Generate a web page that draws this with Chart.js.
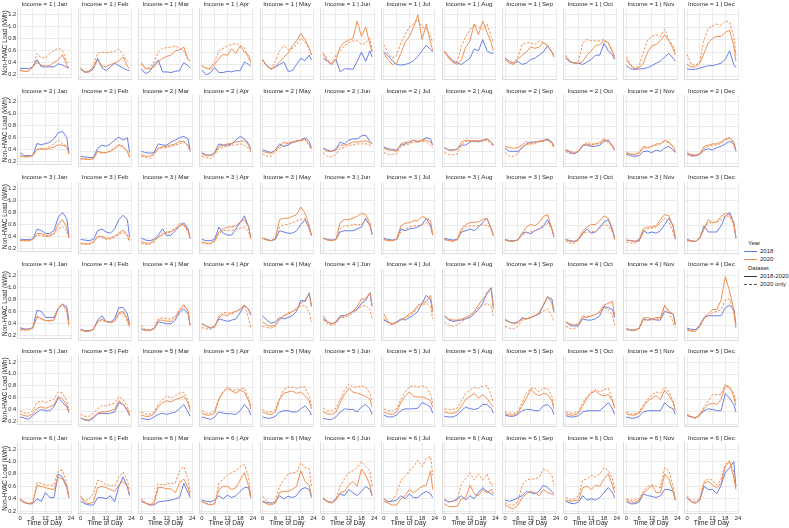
<!DOCTYPE html>
<html><head><meta charset="utf-8">
<script src="https://cdn.jsdelivr.net/npm/chart.js@4"></script>
<style>
html,body{margin:0;padding:0;background:#fff;width:789px;height:528px;overflow:hidden;position:relative;font-family:"Liberation Sans",Arial,sans-serif}
canvas{position:absolute}
.lg{position:absolute;font-size:6px;color:#262626;white-space:nowrap;line-height:1;transform:translateY(-50%)}
.ln{position:absolute;width:13px;height:0;border-top:1px solid #333}
</style></head><body>
<div class="lg" style="left:748px;top:242.7px">Year</div>
<div class="ln" style="left:744px;top:250.5px;border-top-color:#6078e6"></div>
<div class="lg" style="left:760px;top:250.7px">2018</div>
<div class="ln" style="left:744px;top:259px;border-top-color:#f08a4b"></div>
<div class="lg" style="left:760px;top:259.3px">2020</div>
<div class="lg" style="left:748px;top:267.7px">Dataset</div>
<div class="ln" style="left:744px;top:275.8px"></div>
<div class="lg" style="left:760px;top:276px">2018-2020</div>
<div class="ln" style="left:744px;top:284.1px;border-top-style:dashed;border-top-color:#555"></div>
<div class="lg" style="left:760px;top:284.3px">2020 only</div>
<script>
const MONTHS=['Jan','Feb','Mar','Apr','May','Jun','Jul','Aug','Sep','Oct','Nov','Dec'];
const INCOMES=[1,2,3,4,5,6];
const HOURS=[0,2,4,6,8,10,12,14,16,18,20,22,23];
const X_TICKS=[0,6,12,18,24];
const Y_TICKS=[0.2,0.4,0.6,0.8,1.0,1.2];

const INC1_2018=[
[0.31,0.30,0.30,0.33,0.45,0.33,0.33,0.33,0.33,0.38,0.36,0.32,0.31],
[0.33,0.28,0.28,0.33,0.50,0.35,0.30,0.36,0.42,0.38,0.34,0.31,0.30],
[0.33,0.25,0.29,0.40,0.47,0.28,0.28,0.27,0.29,0.30,0.43,0.38,0.34],
[0.31,0.23,0.27,0.35,0.27,0.27,0.29,0.28,0.30,0.30,0.44,0.40,0.37],
[0.47,0.38,0.33,0.36,0.40,0.44,0.29,0.30,0.40,0.50,0.46,0.55,0.47],
[0.50,0.45,0.40,0.48,0.28,0.33,0.33,0.32,0.45,0.60,0.45,0.62,0.52],
[0.60,0.54,0.46,0.40,0.39,0.40,0.42,0.46,0.53,0.62,0.71,0.64,0.60],
[0.60,0.53,0.46,0.42,0.40,0.45,0.50,0.65,0.62,0.80,0.62,0.58,0.58],
[0.50,0.45,0.42,0.45,0.40,0.42,0.48,0.50,0.55,0.60,0.70,0.60,0.55],
[0.50,0.44,0.42,0.42,0.40,0.44,0.48,0.55,0.55,0.74,0.62,0.55,0.48],
[0.38,0.33,0.32,0.33,0.33,0.35,0.38,0.42,0.45,0.52,0.58,0.50,0.45],
[0.33,0.32,0.32,0.34,0.36,0.38,0.38,0.40,0.42,0.48,0.62,0.40,0.35]];
const INC1_2020=[
[0.27,0.25,0.26,0.33,0.40,0.36,0.34,0.35,0.40,0.45,0.53,0.36,0.31],
[0.32,0.27,0.30,0.35,0.47,0.38,0.36,0.40,0.42,0.46,0.52,0.37,0.33],
[0.43,0.33,0.33,0.36,0.45,0.50,0.53,0.55,0.62,0.63,0.68,0.48,0.46],
[0.38,0.34,0.32,0.40,0.50,0.56,0.55,0.65,0.58,0.70,0.60,0.55,0.43],
[0.48,0.38,0.32,0.37,0.44,0.52,0.58,0.70,0.78,0.90,0.80,0.66,0.55],
[0.58,0.45,0.40,0.48,0.68,0.76,0.79,0.82,1.10,0.85,1.00,0.72,0.60],
[0.58,0.48,0.40,0.42,0.58,0.75,0.85,1.00,1.20,0.80,1.05,0.75,0.62],
[0.62,0.50,0.43,0.40,0.48,0.68,0.78,1.05,0.88,1.10,0.92,0.75,0.62],
[0.48,0.42,0.40,0.48,0.55,0.60,0.68,0.66,0.68,0.75,0.70,0.60,0.52],
[0.52,0.45,0.42,0.42,0.45,0.55,0.62,0.70,0.72,0.78,0.75,0.60,0.50],
[0.48,0.38,0.33,0.35,0.42,0.60,0.70,0.72,0.78,0.88,0.78,0.65,0.55],
[0.40,0.36,0.36,0.42,0.58,0.75,0.82,0.85,0.85,0.92,0.95,0.70,0.45]];
const INC1_2020ONLY=[
[0.29,0.25,0.26,0.32,0.55,0.48,0.48,0.55,0.60,0.64,0.60,0.42,0.38],
[0.35,0.27,0.28,0.38,0.58,0.60,0.59,0.60,0.61,0.65,0.56,0.45,0.42],
[0.40,0.33,0.35,0.45,0.60,0.66,0.67,0.68,0.70,0.66,0.62,0.48,0.45],
[0.38,0.34,0.34,0.45,0.62,0.66,0.70,0.72,0.74,0.70,0.67,0.48,0.44],
[0.48,0.37,0.33,0.45,0.62,0.70,0.64,0.66,0.72,0.82,0.76,0.64,0.55],
[0.58,0.48,0.42,0.55,0.62,0.70,0.75,0.78,0.78,0.72,0.75,0.82,0.62],
[0.72,0.58,0.50,0.55,0.75,0.88,1.00,1.05,1.12,1.00,0.98,0.85,0.75],
[0.60,0.52,0.44,0.45,0.70,0.85,0.95,1.05,1.00,0.96,1.05,0.85,0.75],
[0.50,0.45,0.42,0.52,0.72,0.75,0.75,0.72,0.78,0.75,0.70,0.60,0.52],
[0.55,0.45,0.42,0.45,0.75,0.80,0.78,0.78,0.78,0.80,0.75,0.62,0.52],
[0.52,0.40,0.34,0.38,0.60,0.80,0.85,0.88,0.85,0.97,0.80,0.70,0.58],
[0.56,0.40,0.38,0.45,0.80,0.98,1.02,1.05,1.03,1.10,1.08,0.85,0.55]];

const INC2_2018=[
[0.35,0.30,0.30,0.30,0.50,0.48,0.50,0.52,0.58,0.68,0.70,0.60,0.35],
[0.32,0.31,0.30,0.30,0.45,0.50,0.48,0.52,0.58,0.63,0.58,0.62,0.38],
[0.40,0.38,0.37,0.38,0.52,0.50,0.50,0.55,0.58,0.62,0.64,0.60,0.42],
[0.38,0.34,0.34,0.38,0.52,0.50,0.50,0.52,0.58,0.64,0.60,0.52,0.43],
[0.43,0.40,0.38,0.42,0.52,0.48,0.50,0.54,0.56,0.58,0.62,0.56,0.45],
[0.45,0.42,0.40,0.44,0.55,0.52,0.58,0.60,0.60,0.65,0.66,0.56,0.52],
[0.47,0.44,0.43,0.42,0.50,0.52,0.55,0.58,0.55,0.58,0.62,0.60,0.50],
[0.46,0.42,0.42,0.44,0.50,0.50,0.55,0.57,0.55,0.58,0.60,0.55,0.50],
[0.45,0.40,0.40,0.40,0.45,0.52,0.55,0.55,0.56,0.57,0.60,0.55,0.48],
[0.42,0.38,0.36,0.40,0.50,0.50,0.48,0.48,0.50,0.56,0.58,0.48,0.42],
[0.35,0.33,0.32,0.33,0.40,0.40,0.38,0.42,0.40,0.45,0.48,0.42,0.38],
[0.36,0.33,0.33,0.35,0.42,0.44,0.42,0.46,0.48,0.52,0.56,0.52,0.40]];
const INC2_2020=[
[0.30,0.28,0.28,0.30,0.40,0.42,0.40,0.42,0.44,0.48,0.47,0.45,0.32],
[0.28,0.28,0.27,0.28,0.40,0.38,0.38,0.40,0.44,0.50,0.48,0.40,0.30],
[0.35,0.32,0.32,0.36,0.45,0.47,0.48,0.50,0.52,0.56,0.56,0.50,0.40],
[0.36,0.33,0.33,0.37,0.48,0.50,0.52,0.53,0.55,0.56,0.57,0.50,0.42],
[0.40,0.38,0.37,0.42,0.48,0.55,0.52,0.55,0.57,0.58,0.60,0.50,0.45],
[0.44,0.40,0.40,0.42,0.50,0.50,0.52,0.55,0.55,0.56,0.57,0.54,0.52],
[0.45,0.42,0.42,0.40,0.52,0.55,0.54,0.58,0.56,0.58,0.58,0.55,0.50],
[0.45,0.42,0.42,0.43,0.55,0.58,0.57,0.57,0.57,0.58,0.60,0.55,0.50],
[0.48,0.46,0.45,0.46,0.50,0.56,0.52,0.55,0.56,0.58,0.58,0.55,0.47],
[0.43,0.40,0.38,0.40,0.50,0.52,0.50,0.52,0.54,0.60,0.56,0.50,0.42],
[0.38,0.36,0.35,0.38,0.48,0.46,0.48,0.52,0.52,0.58,0.55,0.48,0.40],
[0.38,0.35,0.34,0.36,0.48,0.50,0.52,0.52,0.55,0.60,0.62,0.55,0.42]];
const INC2_2020ONLY=[
[0.29,0.28,0.28,0.30,0.40,0.40,0.42,0.45,0.50,0.56,0.50,0.45,0.35],
[0.28,0.27,0.27,0.28,0.40,0.37,0.38,0.41,0.46,0.51,0.45,0.40,0.31],
[0.32,0.30,0.28,0.35,0.44,0.46,0.46,0.48,0.50,0.52,0.55,0.48,0.40],
[0.32,0.30,0.28,0.35,0.45,0.47,0.48,0.50,0.50,0.52,0.50,0.45,0.38],
[0.36,0.32,0.32,0.40,0.45,0.50,0.54,0.55,0.56,0.57,0.58,0.50,0.42],
[0.38,0.32,0.31,0.35,0.45,0.46,0.50,0.50,0.52,0.52,0.52,0.50,0.48],
[0.38,0.35,0.35,0.36,0.48,0.50,0.52,0.55,0.55,0.56,0.55,0.50,0.45],
[0.38,0.35,0.34,0.36,0.50,0.56,0.56,0.55,0.56,0.56,0.58,0.52,0.48],
[0.38,0.32,0.32,0.36,0.48,0.50,0.52,0.52,0.55,0.56,0.58,0.52,0.45],
[0.40,0.36,0.36,0.40,0.48,0.55,0.52,0.52,0.52,0.58,0.54,0.48,0.42],
[0.37,0.35,0.34,0.37,0.45,0.46,0.48,0.50,0.52,0.56,0.54,0.47,0.40],
[0.35,0.32,0.32,0.35,0.45,0.48,0.50,0.50,0.53,0.58,0.62,0.52,0.42]];

const INC3_2018=[
[0.36,0.35,0.35,0.36,0.52,0.50,0.45,0.45,0.50,0.72,0.80,0.70,0.42],
[0.38,0.37,0.36,0.38,0.52,0.55,0.50,0.48,0.55,0.70,0.77,0.70,0.42],
[0.40,0.37,0.36,0.38,0.45,0.55,0.44,0.45,0.52,0.60,0.65,0.55,0.40],
[0.38,0.36,0.36,0.38,0.58,0.48,0.45,0.45,0.55,0.65,0.76,0.58,0.40],
[0.40,0.38,0.36,0.38,0.52,0.50,0.48,0.48,0.52,0.62,0.70,0.55,0.44],
[0.40,0.38,0.37,0.38,0.50,0.52,0.52,0.52,0.55,0.58,0.72,0.60,0.46],
[0.40,0.38,0.37,0.38,0.55,0.52,0.55,0.56,0.58,0.62,0.72,0.60,0.45],
[0.40,0.38,0.37,0.38,0.50,0.52,0.55,0.52,0.58,0.65,0.72,0.55,0.44],
[0.38,0.36,0.36,0.37,0.48,0.50,0.47,0.52,0.55,0.60,0.70,0.55,0.42],
[0.38,0.36,0.35,0.38,0.48,0.55,0.48,0.50,0.58,0.66,0.70,0.52,0.40],
[0.37,0.36,0.35,0.36,0.52,0.48,0.50,0.48,0.52,0.62,0.72,0.60,0.40],
[0.38,0.36,0.35,0.40,0.60,0.50,0.50,0.50,0.60,0.75,0.82,0.65,0.40]];
const INC3_2020=[
[0.34,0.33,0.33,0.35,0.45,0.45,0.42,0.42,0.45,0.60,0.68,0.55,0.38],
[0.32,0.31,0.31,0.34,0.43,0.43,0.40,0.40,0.43,0.48,0.53,0.45,0.36],
[0.35,0.32,0.32,0.36,0.42,0.45,0.50,0.50,0.55,0.60,0.62,0.52,0.40],
[0.34,0.32,0.32,0.36,0.50,0.55,0.58,0.58,0.60,0.66,0.70,0.58,0.40],
[0.40,0.37,0.36,0.40,0.70,0.72,0.72,0.75,0.78,0.90,0.80,0.60,0.45],
[0.40,0.37,0.36,0.38,0.65,0.70,0.70,0.72,0.75,0.80,0.78,0.65,0.46],
[0.38,0.36,0.36,0.38,0.60,0.64,0.65,0.68,0.68,0.75,0.72,0.68,0.45],
[0.38,0.36,0.35,0.38,0.55,0.62,0.65,0.66,0.66,0.70,0.72,0.55,0.44],
[0.37,0.35,0.35,0.37,0.48,0.58,0.62,0.60,0.65,0.75,0.78,0.55,0.42],
[0.38,0.35,0.34,0.38,0.52,0.58,0.62,0.62,0.68,0.76,0.72,0.55,0.40],
[0.37,0.36,0.35,0.38,0.55,0.58,0.58,0.60,0.70,0.78,0.76,0.58,0.42],
[0.37,0.35,0.35,0.40,0.55,0.70,0.65,0.66,0.75,0.80,0.78,0.65,0.42]];
const INC3_2020ONLY=[
[0.33,0.33,0.33,0.35,0.42,0.42,0.40,0.40,0.45,0.52,0.57,0.50,0.38],
[0.31,0.30,0.30,0.33,0.42,0.42,0.38,0.39,0.42,0.46,0.50,0.44,0.34],
[0.32,0.30,0.30,0.34,0.42,0.48,0.48,0.52,0.55,0.65,0.60,0.50,0.38],
[0.33,0.31,0.31,0.35,0.48,0.52,0.53,0.52,0.55,0.56,0.58,0.50,0.40],
[0.40,0.37,0.36,0.40,0.58,0.62,0.62,0.65,0.68,0.70,0.72,0.58,0.44],
[0.40,0.37,0.36,0.38,0.55,0.60,0.60,0.62,0.62,0.62,0.70,0.60,0.46],
[0.38,0.36,0.36,0.38,0.50,0.55,0.58,0.60,0.60,0.62,0.65,0.60,0.45],
[0.38,0.36,0.36,0.37,0.52,0.58,0.60,0.60,0.60,0.62,0.60,0.58,0.44],
[0.37,0.35,0.35,0.37,0.45,0.48,0.50,0.52,0.55,0.58,0.65,0.55,0.42],
[0.36,0.32,0.32,0.37,0.48,0.50,0.50,0.52,0.55,0.62,0.60,0.50,0.38],
[0.34,0.32,0.32,0.35,0.50,0.55,0.56,0.58,0.65,0.72,0.66,0.50,0.38],
[0.36,0.35,0.35,0.40,0.55,0.65,0.65,0.66,0.70,0.76,0.75,0.62,0.40]];

const INC4_2018=[
[0.33,0.31,0.31,0.33,0.62,0.60,0.50,0.50,0.50,0.65,0.72,0.68,0.45],
[0.33,0.31,0.31,0.33,0.48,0.55,0.46,0.45,0.50,0.68,0.68,0.58,0.42],
[0.34,0.32,0.32,0.34,0.45,0.44,0.42,0.42,0.48,0.60,0.66,0.58,0.40],
[0.42,0.38,0.35,0.38,0.50,0.48,0.46,0.48,0.50,0.60,0.72,0.65,0.56],
[0.55,0.48,0.43,0.45,0.52,0.50,0.52,0.55,0.62,0.80,0.78,0.92,0.70],
[0.50,0.45,0.42,0.45,0.55,0.55,0.58,0.62,0.65,0.75,0.80,0.92,0.70],
[0.48,0.45,0.42,0.45,0.50,0.48,0.52,0.56,0.62,0.75,0.88,0.80,0.62],
[0.55,0.48,0.46,0.47,0.48,0.50,0.52,0.58,0.65,0.75,0.92,1.00,0.70],
[0.48,0.45,0.43,0.45,0.52,0.50,0.52,0.55,0.58,0.72,0.85,0.82,0.62],
[0.45,0.40,0.38,0.40,0.50,0.48,0.48,0.50,0.55,0.70,0.68,0.65,0.52],
[0.33,0.32,0.32,0.35,0.50,0.48,0.50,0.48,0.48,0.62,0.60,0.58,0.42],
[0.35,0.33,0.33,0.40,0.52,0.55,0.55,0.55,0.55,0.68,0.72,0.65,0.42]];
const INC4_2020=[
[0.30,0.30,0.30,0.33,0.52,0.48,0.45,0.45,0.46,0.65,0.72,0.62,0.38],
[0.32,0.30,0.30,0.33,0.45,0.50,0.46,0.44,0.46,0.60,0.62,0.50,0.38],
[0.33,0.31,0.31,0.34,0.48,0.48,0.46,0.46,0.52,0.65,0.73,0.62,0.40],
[0.43,0.38,0.36,0.38,0.52,0.57,0.55,0.60,0.62,0.66,0.72,0.65,0.58],
[0.45,0.40,0.38,0.40,0.50,0.55,0.58,0.62,0.65,0.75,0.80,0.90,0.70],
[0.55,0.45,0.42,0.45,0.52,0.55,0.58,0.62,0.70,0.82,0.82,0.92,0.72],
[0.58,0.45,0.42,0.44,0.48,0.52,0.58,0.62,0.72,0.75,0.78,0.88,0.62],
[0.55,0.50,0.48,0.48,0.50,0.52,0.56,0.62,0.72,0.82,0.90,0.98,0.65],
[0.50,0.45,0.42,0.44,0.50,0.50,0.52,0.55,0.60,0.72,0.86,0.75,0.60],
[0.45,0.42,0.40,0.42,0.55,0.52,0.55,0.57,0.62,0.72,0.75,0.78,0.55],
[0.35,0.32,0.32,0.35,0.52,0.52,0.50,0.52,0.52,0.72,0.62,0.58,0.40],
[0.32,0.30,0.30,0.38,0.52,0.58,0.65,0.65,0.80,1.18,0.95,0.65,0.35]];
const INC4_2020ONLY=[
[0.30,0.29,0.29,0.32,0.50,0.48,0.44,0.44,0.45,0.65,0.72,0.60,0.35],
[0.32,0.30,0.30,0.33,0.45,0.48,0.45,0.44,0.46,0.58,0.60,0.45,0.36],
[0.40,0.32,0.32,0.35,0.50,0.52,0.50,0.50,0.55,0.62,0.70,0.65,0.40],
[0.36,0.34,0.33,0.36,0.55,0.60,0.60,0.58,0.62,0.65,0.72,0.50,0.36],
[0.38,0.36,0.35,0.38,0.48,0.55,0.60,0.62,0.68,0.70,0.72,0.60,0.45],
[0.48,0.42,0.40,0.42,0.52,0.52,0.55,0.60,0.65,0.70,0.72,0.65,0.50],
[0.50,0.43,0.40,0.44,0.48,0.52,0.55,0.60,0.68,0.72,0.75,0.70,0.50],
[0.45,0.40,0.38,0.40,0.45,0.50,0.55,0.60,0.68,0.72,0.75,0.70,0.55],
[0.38,0.35,0.34,0.38,0.48,0.50,0.52,0.55,0.58,0.62,0.66,0.55,0.45],
[0.38,0.35,0.34,0.38,0.52,0.54,0.55,0.57,0.60,0.68,0.65,0.55,0.40],
[0.33,0.31,0.31,0.34,0.48,0.48,0.48,0.50,0.50,0.70,0.60,0.45,0.36],
[0.34,0.31,0.31,0.38,0.50,0.55,0.60,0.62,0.65,0.80,0.82,0.60,0.40]];

const INC5_2018=[
[0.28,0.26,0.24,0.30,0.36,0.40,0.38,0.38,0.45,0.60,0.52,0.45,0.35],
[0.30,0.27,0.26,0.30,0.37,0.38,0.37,0.38,0.40,0.55,0.52,0.42,0.34],
[0.30,0.28,0.28,0.32,0.36,0.38,0.36,0.38,0.40,0.45,0.52,0.40,0.33],
[0.32,0.30,0.28,0.32,0.40,0.38,0.37,0.37,0.36,0.42,0.52,0.44,0.35],
[0.32,0.30,0.30,0.33,0.40,0.42,0.42,0.40,0.40,0.45,0.50,0.42,0.35],
[0.30,0.28,0.28,0.32,0.40,0.45,0.44,0.44,0.40,0.48,0.52,0.45,0.36],
[0.35,0.32,0.32,0.35,0.42,0.45,0.45,0.45,0.46,0.55,0.52,0.48,0.38],
[0.33,0.32,0.32,0.35,0.42,0.48,0.45,0.44,0.46,0.52,0.52,0.46,0.38],
[0.35,0.33,0.33,0.36,0.42,0.44,0.44,0.42,0.42,0.50,0.52,0.45,0.36],
[0.34,0.32,0.32,0.34,0.40,0.42,0.42,0.42,0.42,0.48,0.55,0.45,0.36],
[0.32,0.30,0.30,0.33,0.40,0.42,0.42,0.42,0.42,0.55,0.48,0.45,0.36],
[0.34,0.32,0.30,0.35,0.42,0.45,0.44,0.42,0.42,0.70,0.62,0.52,0.40]];
const INC5_2020=[
[0.33,0.30,0.29,0.33,0.42,0.45,0.42,0.45,0.48,0.62,0.58,0.48,0.36],
[0.30,0.28,0.27,0.32,0.38,0.40,0.40,0.42,0.44,0.58,0.52,0.44,0.34],
[0.35,0.33,0.33,0.37,0.48,0.55,0.58,0.56,0.60,0.62,0.65,0.55,0.42],
[0.38,0.35,0.35,0.38,0.60,0.72,0.78,0.74,0.70,0.75,0.72,0.58,0.45],
[0.40,0.37,0.36,0.40,0.60,0.70,0.72,0.74,0.70,0.72,0.66,0.58,0.45],
[0.40,0.37,0.36,0.40,0.55,0.68,0.78,0.72,0.70,0.68,0.65,0.60,0.48],
[0.40,0.37,0.36,0.40,0.55,0.65,0.72,0.65,0.64,0.64,0.62,0.58,0.48],
[0.40,0.38,0.38,0.40,0.50,0.60,0.65,0.70,0.62,0.68,0.62,0.52,0.48],
[0.37,0.35,0.35,0.38,0.50,0.62,0.76,0.70,0.66,0.70,0.68,0.58,0.45],
[0.37,0.35,0.35,0.38,0.50,0.62,0.70,0.74,0.68,0.66,0.68,0.58,0.46],
[0.37,0.35,0.35,0.38,0.48,0.58,0.62,0.66,0.60,0.75,0.66,0.55,0.42],
[0.35,0.32,0.30,0.35,0.45,0.52,0.54,0.52,0.60,0.82,0.80,0.65,0.50]];
const INC5_2020ONLY=[
[0.38,0.35,0.34,0.38,0.52,0.55,0.52,0.55,0.58,0.70,0.68,0.55,0.40],
[0.36,0.33,0.33,0.38,0.45,0.50,0.50,0.52,0.54,0.65,0.60,0.48,0.38],
[0.40,0.37,0.36,0.40,0.52,0.60,0.66,0.62,0.66,0.70,0.72,0.58,0.45],
[0.42,0.38,0.38,0.42,0.62,0.72,0.80,0.75,0.75,0.77,0.78,0.62,0.48],
[0.44,0.40,0.40,0.44,0.62,0.76,0.80,0.80,0.78,0.80,0.80,0.65,0.50],
[0.46,0.42,0.42,0.46,0.60,0.75,0.85,0.80,0.80,0.82,0.80,0.70,0.55],
[0.45,0.42,0.42,0.45,0.60,0.72,0.80,0.82,0.80,0.82,0.80,0.68,0.55],
[0.45,0.44,0.44,0.46,0.58,0.70,0.75,0.80,0.78,0.82,0.82,0.66,0.55],
[0.40,0.38,0.38,0.40,0.55,0.70,0.78,0.78,0.72,0.78,0.78,0.65,0.48],
[0.40,0.38,0.38,0.40,0.55,0.65,0.72,0.76,0.72,0.76,0.78,0.60,0.48],
[0.40,0.37,0.37,0.40,0.52,0.60,0.68,0.72,0.70,0.80,0.72,0.58,0.45],
[0.36,0.33,0.31,0.37,0.48,0.58,0.68,0.68,0.68,0.85,0.80,0.70,0.55]];

const INC6_2018=[
[0.40,0.34,0.32,0.32,0.40,0.36,0.50,0.42,0.42,0.80,0.75,0.60,0.42],
[0.36,0.32,0.30,0.30,0.42,0.42,0.40,0.45,0.35,0.60,0.75,0.60,0.45],
[0.36,0.33,0.30,0.30,0.35,0.36,0.37,0.38,0.40,0.42,0.65,0.50,0.42],
[0.38,0.36,0.35,0.38,0.45,0.40,0.46,0.42,0.45,0.52,0.58,0.58,0.42],
[0.36,0.34,0.33,0.35,0.45,0.40,0.44,0.42,0.45,0.55,0.58,0.55,0.42],
[0.40,0.36,0.34,0.40,0.48,0.45,0.55,0.50,0.45,0.52,0.60,0.55,0.45],
[0.40,0.35,0.36,0.38,0.45,0.40,0.48,0.42,0.42,0.48,0.52,0.48,0.42],
[0.38,0.35,0.36,0.40,0.45,0.38,0.45,0.40,0.50,0.58,0.52,0.48,0.45],
[0.38,0.36,0.38,0.42,0.45,0.52,0.50,0.48,0.52,0.62,0.58,0.52,0.48],
[0.36,0.33,0.32,0.35,0.45,0.38,0.40,0.38,0.42,0.50,0.58,0.50,0.42],
[0.35,0.32,0.32,0.35,0.48,0.45,0.44,0.42,0.45,0.55,0.55,0.52,0.38],
[0.42,0.35,0.33,0.38,0.60,0.55,0.55,0.48,0.62,0.82,0.90,1.00,0.60]];
const INC6_2020=[
[0.38,0.34,0.32,0.33,0.62,0.60,0.58,0.56,0.55,0.75,0.72,0.58,0.42],
[0.42,0.34,0.32,0.35,0.58,0.60,0.58,0.55,0.52,0.62,0.68,0.60,0.48],
[0.38,0.33,0.30,0.32,0.58,0.58,0.56,0.56,0.50,0.65,0.72,0.58,0.45],
[0.35,0.32,0.30,0.32,0.55,0.60,0.60,0.55,0.58,0.70,0.82,0.60,0.42],
[0.35,0.32,0.30,0.33,0.50,0.52,0.52,0.55,0.60,0.85,0.68,0.62,0.45],
[0.40,0.35,0.33,0.38,0.50,0.52,0.62,0.68,0.60,0.88,0.78,0.62,0.45],
[0.36,0.33,0.30,0.30,0.40,0.45,0.55,0.50,0.55,0.60,0.62,0.85,0.55],
[0.32,0.28,0.27,0.28,0.40,0.42,0.62,0.48,0.45,0.55,0.50,0.55,0.48],
[0.30,0.26,0.24,0.30,0.42,0.48,0.52,0.50,0.45,0.55,0.50,0.48,0.45],
[0.38,0.36,0.37,0.38,0.58,0.60,0.55,0.62,0.60,0.72,0.80,0.62,0.50],
[0.38,0.35,0.34,0.38,0.50,0.55,0.62,0.50,0.50,0.80,0.72,0.52,0.38],
[0.42,0.35,0.33,0.38,0.65,0.68,0.62,0.58,0.65,0.92,1.00,0.75,0.55]];
const INC6_2020ONLY=[
[0.40,0.35,0.33,0.35,0.66,0.65,0.62,0.62,0.62,0.85,0.86,0.65,0.44],
[0.45,0.36,0.40,0.48,0.70,0.68,0.62,0.62,0.60,0.75,0.83,0.70,0.55],
[0.40,0.34,0.31,0.35,0.65,0.62,0.64,0.65,0.65,0.85,0.92,0.72,0.50],
[0.36,0.33,0.31,0.33,0.65,0.72,0.78,0.82,0.85,0.92,0.95,0.75,0.42],
[0.45,0.36,0.33,0.36,0.60,0.70,0.80,0.82,0.82,0.98,0.90,0.88,0.60],
[0.42,0.36,0.34,0.40,0.60,0.72,0.82,0.85,0.90,1.00,0.92,0.85,0.60],
[0.40,0.36,0.38,0.48,0.70,0.76,0.85,0.92,1.02,0.92,1.05,1.08,0.78],
[0.40,0.35,0.36,0.38,0.65,0.72,0.82,0.70,0.80,0.70,0.80,0.62,0.65],
[0.34,0.30,0.30,0.35,0.62,0.70,0.72,0.72,0.75,0.88,0.85,0.78,0.62],
[0.42,0.38,0.40,0.45,0.70,0.72,0.78,0.75,0.80,0.90,0.85,0.72,0.55],
[0.40,0.38,0.38,0.40,0.52,0.60,0.62,0.60,0.58,0.90,0.85,0.60,0.40],
[0.45,0.38,0.36,0.40,0.68,0.72,0.70,0.62,0.72,0.95,1.02,0.82,0.60]];

const SERIES_2018=[INC1_2018,INC2_2018,INC3_2018,INC4_2018,INC5_2018,INC6_2018];
const SERIES_2020=[INC1_2020,INC2_2020,INC3_2020,INC4_2020,INC5_2020,INC6_2020];
const SERIES_2020ONLY=[INC1_2020ONLY,INC2_2020ONLY,INC3_2020ONLY,INC4_2020ONLY,INC5_2020ONLY,INC6_2020ONLY];

// styling / layout
const BLUE='#6078e6', ORANGE='#f08a4b', GRID='#e6e6e6', SPINE='#d4d4d4', TXT='#262626';
const FONT='"Liberation Sans", Arial, sans-serif';
const X_MIN=-1.15, X_MAX=24.15, Y_MIN=0.158, Y_MAX=1.302;
const PLOT_X0=17.56, COL_PITCH=60.64, PLOT_W=53.76;
const PLOT_Y0=8.4, ROW_PITCH=86.87, PLOT_H=71.1;
const TITLE_H=7.5;

function pts(arr){return HOURS.map((h,i)=>({x:h,y:arr[i]}));}

function panel(r,c){
  const plotL=PLOT_X0+c*COL_PITCH, plotT=PLOT_Y0+r*ROW_PITCH;
  const first=c===0, last=r===INCOMES.length-1;
  const cx=first?0:Math.floor(plotL)-3;
  const cy=Math.floor(plotT-TITLE_H-1);
  const xAxisH=last?14.5:1;
  const cw=Math.ceil(plotL+PLOT_W+4)-cx;
  const ch=Math.ceil(plotT+PLOT_H+xAxisH+1)-cy;
  const yAxisW=plotL-cx;
  const padTop=plotT-cy-TITLE_H;
  const padRight=cw-yAxisW-PLOT_W;
  const padBottom=ch-(plotT-cy)-PLOT_H-xAxisH;
  const cv=document.createElement('canvas');
  cv.width=cw; cv.height=ch;
  cv.style.left=cx+'px'; cv.style.top=cy+'px';
  cv.style.width=cw+'px'; cv.style.height=ch+'px';
  document.body.appendChild(cv);
  const base={borderWidth:0.95,pointRadius:0,tension:0,fill:false};
  new Chart(cv,{
    type:'line',
    data:{datasets:[
      Object.assign({label:'2020 only',data:pts(SERIES_2020ONLY[r][c]),borderColor:ORANGE,borderDash:[2.4,1.6]},base),
      Object.assign({label:'2020',data:pts(SERIES_2020[r][c]),borderColor:ORANGE},base),
      Object.assign({label:'2018',data:pts(SERIES_2018[r][c]),borderColor:BLUE},base)
    ]},
    options:{
      responsive:false,animation:false,devicePixelRatio:1,
      layout:{padding:{left:0,top:padTop,right:padRight,bottom:padBottom}},
      plugins:{
        legend:{display:false},tooltip:{enabled:false},
        title:{display:true,fullSize:false,text:'Income = '+INCOMES[r]+' | '+MONTHS[c],
          font:{family:FONT,size:6.2,weight:'normal',lineHeight:1},color:TXT,padding:{top:0,bottom:TITLE_H-6.2}}
      },
      scales:{
        x:{type:'linear',min:X_MIN,max:X_MAX,
          afterBuildTicks:s=>{s.ticks=X_TICKS.map(v=>({value:v}));},
          afterFit:s=>{s.height=xAxisH;},
          grid:{color:GRID,lineWidth:0.8,drawTicks:false},
          border:{display:true,color:SPINE,width:0.8},
          ticks:{display:last,font:{family:FONT,size:5.8},color:TXT,padding:1.2,maxRotation:0,autoSkip:false,callback:v=>String(v)},
          title:{display:last,text:'Time of Day',font:{family:FONT,size:6.6,weight:'normal',lineHeight:1},color:TXT,padding:{top:0,bottom:2}}
        },
        y:{type:'linear',min:Y_MIN,max:Y_MAX,
          afterBuildTicks:s=>{s.ticks=Y_TICKS.map(v=>({value:v}));},
          afterFit:s=>{s.width=yAxisW;},
          grid:{color:GRID,lineWidth:0.8,drawTicks:false},
          border:{display:true,color:SPINE,width:0.8},
          ticks:{display:first,font:{family:FONT,size:5.6},color:TXT,padding:1.5,autoSkip:false,callback:v=>Number(v).toFixed(1)},
          title:{display:first,text:'Non-HVAC Load (kWh)',font:{family:FONT,size:6.3,weight:'normal',lineHeight:1},color:TXT,padding:{top:1.9,bottom:0}}
        }
      }
    }
  });
}
for(let r=0;r<INCOMES.length;r++) for(let c=0;c<MONTHS.length;c++) panel(r,c);
</script>
</body></html>
